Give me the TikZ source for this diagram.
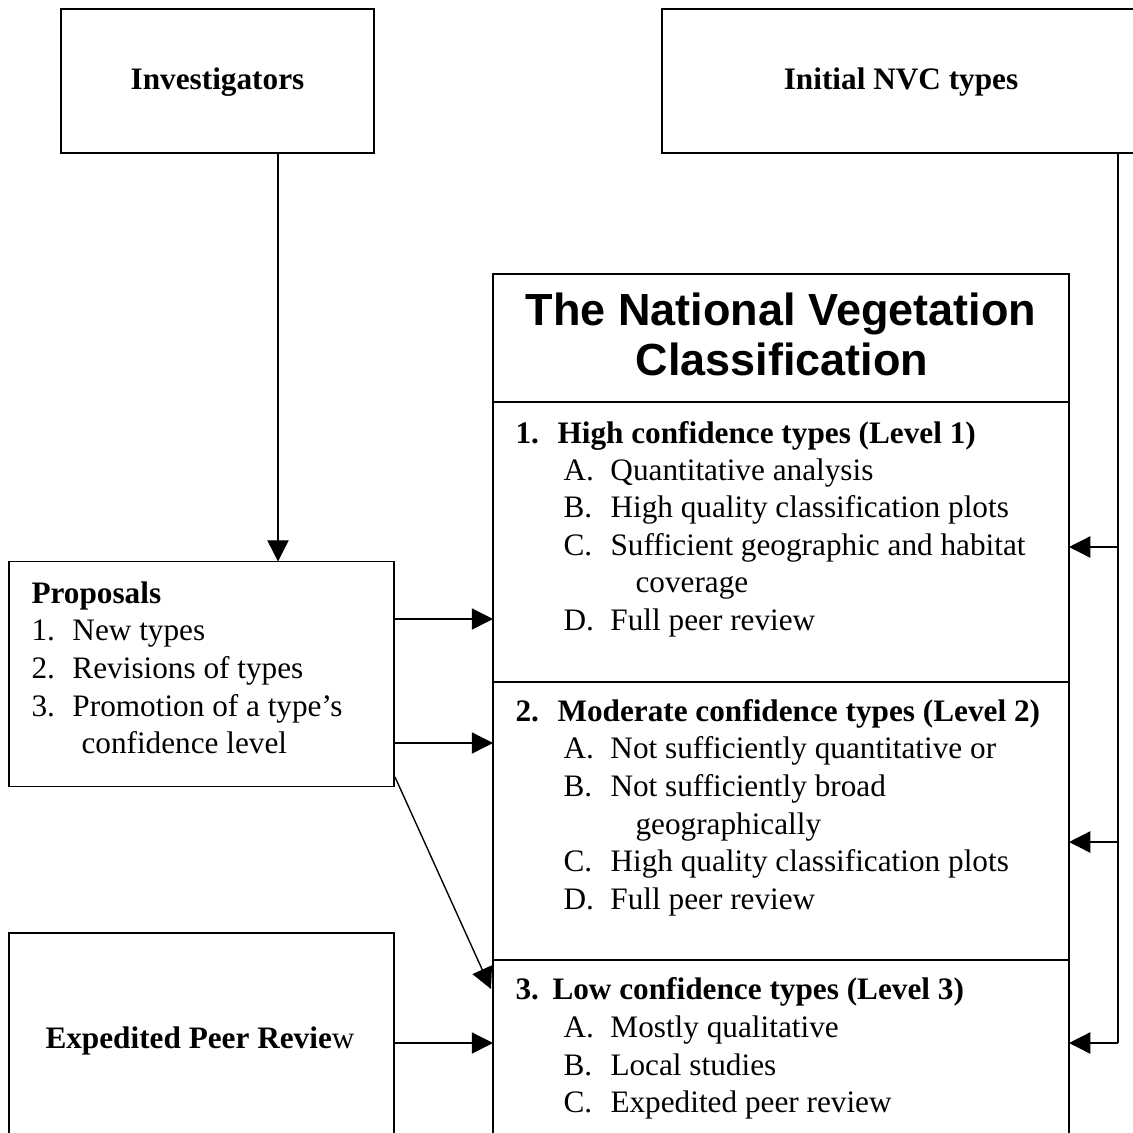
\documentclass[tikz,border=0pt]{standalone}
\usepackage{fontspec}
\setmainfont{Liberation Serif}
\newfontfamily\arialfont{Liberation Sans}
\usetikzlibrary{arrows.meta}
\newcommand{\itemlab}[2]{\makebox[#1][l]{#2}}
\tikzset{
  box/.style={draw, line width=0.75pt, inner sep=0pt, outer sep=0pt},
  txt/.style={font=\fontsize{12.5}{15}\selectfont, anchor=base west, inner sep=0pt},
  ctxt/.style={font=\fontsize{12.5}{15}\selectfont\bfseries, anchor=base, inner sep=0pt},
  arr/.style={line width=0.55pt, -{Triangle[length=8.5pt,width=8.5pt]}},
  conn/.style={line width=0.55pt}
}
\begin{document}
\begin{tikzpicture}[x=0.4pt,y=-0.4pt]
\useasboundingbox (0,0) rectangle (1133,1133);
\clip (0,0) rectangle (1133,1133);
% top boxes
\node[box, minimum width=125.2pt, minimum height=57.6pt] (inv) at (217.5,81) {};
\node[ctxt] (invt) at (217.5,89) {Investigators};
\node[box, minimum width=192pt, minimum height=57.6pt] (init) at (902,81) {};
\node[ctxt] (initt) at (901,89) {Initial NVC types};
% left boxes
\node[box, minimum width=154pt, minimum height=90pt] (prop) at (201.5,674) {};
\node[box, minimum width=154pt, minimum height=84pt] (exp) at (201.5,1038) {};
\node[ctxt] (expt) at (200,1048) {Expedited Peer Revie\mdseries w};
% NVC column
\node[box, minimum width=230.4pt, minimum height=51.2pt] (hdr) at (781,338) {};
\node[box, minimum width=230.4pt, minimum height=112pt] (sec1) at (781,542) {};
\node[box, minimum width=230.4pt, minimum height=111.2pt] (sec2) at (781,821) {};
\node[box, minimum width=230.4pt, minimum height=74pt] (sec3) at (781,1052.5) {};
\node[font=\arialfont\bfseries\fontsize{18}{20}\selectfont, anchor=base, inner sep=0pt] (title1) at (781,325) {The National Vegetation};
\node[font=\arialfont\bfseries\fontsize{18}{20}\selectfont, anchor=base, inner sep=0pt] (title2) at (782,375) {Classification};
% proposals text
\node[txt, font=\fontsize{12.5}{15}\selectfont\bfseries] (p0) at (31,603) {Proposals};
\node[txt] (p1) at (31,640) {\itemlab{16.4pt}{1.}New types};
\node[txt] (p2) at (31,678) {\itemlab{16.4pt}{2.}Revisions of types};
\node[txt] (p3) at (31,716) {\itemlab{16.4pt}{3.}Promotion of a type’s};
\node[txt] (p4) at (81,753) {confidence level};
% section 1
\node[txt, font=\fontsize{12.5}{15}\selectfont\bfseries] (s1t) at (515,443) {\itemlab{16.8pt}{1.}High confidence types (Level 1)};
\node[txt] (s1a) at (563,480) {\itemlab{18.8pt}{A.}Quantitative analysis};
\node[txt] (s1b) at (563,517) {\itemlab{18.8pt}{B.}High quality classification plots};
\node[txt] (s1c) at (563,555) {\itemlab{18.8pt}{C.}Sufficient geographic and habitat};
\node[txt] (s1c2) at (635,592) {coverage};
\node[txt] (s1d) at (563,630) {\itemlab{18.8pt}{D.}Full peer review};
% section 2
\node[txt, font=\fontsize{12.5}{15}\selectfont\bfseries] (s2t) at (515,721) {\itemlab{16.8pt}{2.}Moderate confidence types (Level 2)};
\node[txt] (s2a) at (563,758) {\itemlab{18.8pt}{A.}Not sufficiently quantitative or};
\node[txt] (s2b) at (563,796) {\itemlab{18.8pt}{B.}Not sufficiently broad};
\node[txt] (s2b2) at (635,834) {geographically};
\node[txt] (s2c) at (563,871) {\itemlab{18.8pt}{C.}High quality classification plots};
\node[txt] (s2d) at (563,909) {\itemlab{18.8pt}{D.}Full peer review};
% section 3
\node[txt, font=\fontsize{12.5}{15}\selectfont\bfseries] (s3t) at (515,999) {\itemlab{14.8pt}{3.}Low confidence types (Level 3)};
\node[txt] (s3a) at (563,1037) {\itemlab{18.8pt}{A.}Mostly qualitative};
\node[txt] (s3b) at (563,1075) {\itemlab{18.8pt}{B.}Local studies};
\node[txt] (s3c) at (563,1112) {\itemlab{18.8pt}{C.}Expedited peer review};
% helper coordinates
\coordinate (invx) at (278,0);
\coordinate (rx) at (1118,0);
\coordinate (ya) at (0,547);
\coordinate (yb) at (0,842);
\coordinate (yc) at (0,1043);
\coordinate (yp1) at (0,619);
\coordinate (yp2) at (0,743);
\coordinate (dstart) at (395,777);
\coordinate (dend) at (491,989);
% connectors
\draw[arr] (inv.south -| invx) -- (prop.north -| invx);
\draw[conn] (init.south -| rx) -- (rx |- yc);
\draw[arr] (rx |- ya) -- (sec1.east |- ya);
\draw[arr] (rx |- yb) -- (sec2.east |- yb);
\draw[arr] (rx |- yc) -- (sec3.east |- yc);
\draw[arr] (prop.east |- yp1) -- (sec1.west |- yp1);
\draw[arr] (prop.east |- yp2) -- (sec2.west |- yp2);
\draw[arr] (dstart) -- (dend);
\draw[arr] (exp.east |- yc) -- (sec3.west |- yc);
\end{tikzpicture}
\end{document}
